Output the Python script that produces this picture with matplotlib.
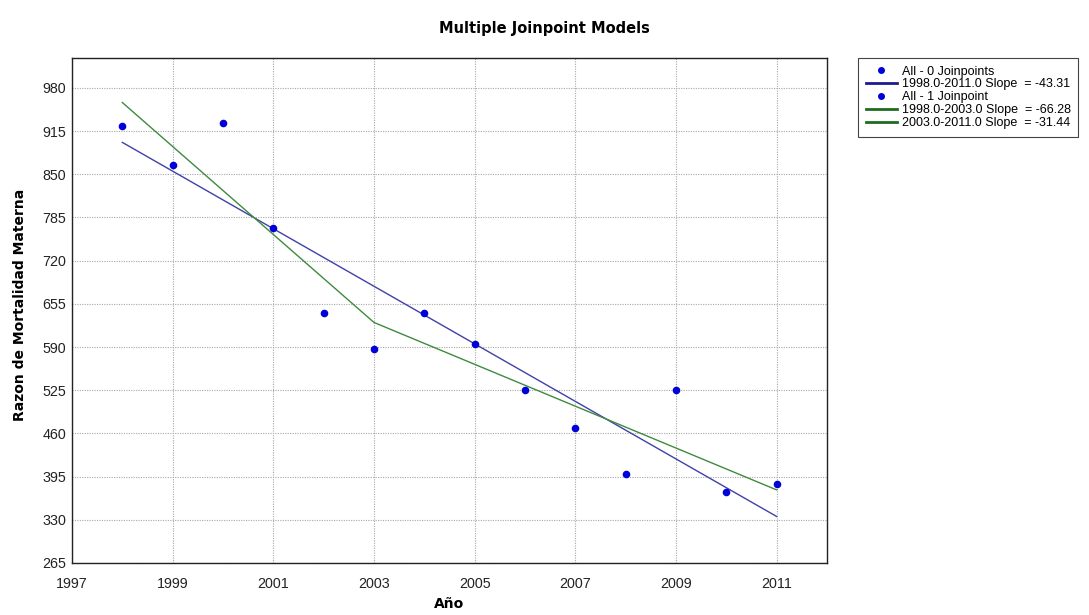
import matplotlib
matplotlib.use("Agg")
import matplotlib.pyplot as plt
from matplotlib.lines import Line2D

years = [1998, 1999, 2000, 2001, 2002, 2003, 2004, 2005, 2006, 2007, 2008, 2009, 2010, 2011]
observed = [923, 864, 927, 769, 641, 587, 641, 595, 525, 468, 399, 525, 372, 384]

# Fitted models
fit0_x = [1998, 2011]
fit0_y = [898, 335]
fit1_x = [1998, 2003, 2011]
fit1_y = [958, 627, 375]

legend_labels = ["All - 0 Joinpoints", "1998.0-2011.0 Slope  = -43.31",
                 "All - 1 Joinpoint", "1998.0-2003.0 Slope  = -66.28",
                 "2003.0-2011.0 Slope  = -31.44"]

yticks = list(range(265, 981, 65))
xticks = list(range(1997, 2012, 2))

fig = plt.figure(figsize=(10.89, 6.15), dpi=100)
ax = fig.add_axes([72/1089, 1 - 563/615, (827-72)/1089, (563-58)/615])

blue_line = "#4040a8"
green_line = "#3f8a3f"
dot_col = "#0000d8"

ax.plot(fit0_x, fit0_y, color=blue_line, lw=1.0, zorder=3)
ax.plot(fit1_x, fit1_y, color=green_line, lw=1.0, zorder=3)
ax.scatter(years, observed, s=30, color=dot_col, zorder=4, linewidths=0)

ax.set_xlim(1997, 2012)
ax.set_ylim(265, 1025)
ax.set_xticks(xticks)
ax.set_yticks(yticks)
ax.grid(True, linestyle=(0, (1, 1.2)), color="#a8a8a8", lw=0.8)
ax.tick_params(axis="y", length=0, labelsize=10.3, pad=4)
ax.tick_params(axis="x", length=0, labelsize=10.3, pad=10)
for lab in ax.get_xticklabels() + ax.get_yticklabels():
    lab.set_fontfamily("Liberation Sans")
    lab.set_color("#222222")
for s in ax.spines.values():
    s.set_color("#222222")
    s.set_linewidth(1.0)

fig.text(0.5, 1 - 28/615, "Multiple Joinpoint Models", ha="center", va="center",
         fontsize=10.5, fontweight="bold", family="DejaVu Sans")
fig.text(20/1089, 1 - 305/615, "Razon de Mortalidad Materna", rotation=90,
         ha="center", va="center", fontsize=10, fontweight="bold", family="DejaVu Sans")
fig.text(449/1089, 1 - 604/615, "Año", ha="center", va="center",
         fontsize=10, fontweight="bold", family="DejaVu Sans")

handles = [
    Line2D([], [], marker="o", ls="none", color=dot_col, markersize=4),
    Line2D([], [], color="#1c1c8c", lw=2),
    Line2D([], [], marker="o", ls="none", color=dot_col, markersize=4),
    Line2D([], [], color="#1f6b1f", lw=2),
    Line2D([], [], color="#1f6b1f", lw=2),
]
leg = fig.legend(handles, legend_labels, loc="upper left",
                 bbox_to_anchor=(858/1089, 1 - 58/615),
                 prop={"family": "Liberation Sans", "size": 9.0},
                 frameon=True, fancybox=False, framealpha=1,
                 edgecolor="#444444", handlelength=2.5, handletextpad=0.4,
                 labelspacing=0.07, borderpad=0.6, borderaxespad=0)
leg.get_frame().set_linewidth(0.8)

fig.savefig("out.png", dpi=100)
